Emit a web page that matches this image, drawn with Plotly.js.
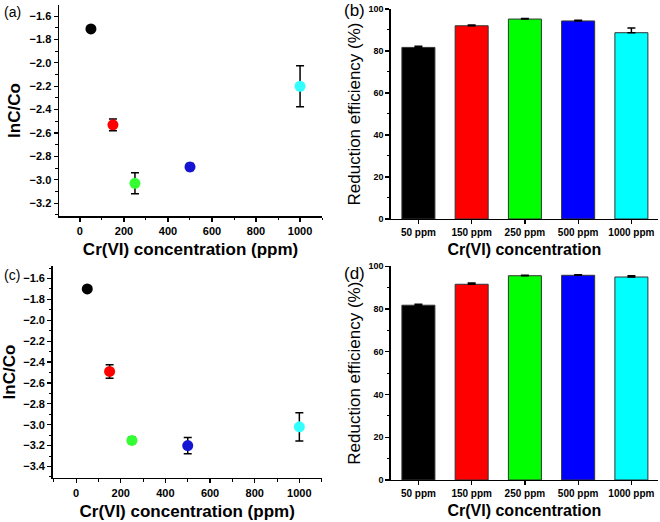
<!DOCTYPE html>
<html>
<head>
<meta charset="utf-8">
<script src="https://cdn.plot.ly/plotly-3.0.1.min.js"></script>
<style>
  html, body { margin: 0; padding: 0; background: #fff; }
  #plot { width: 660px; height: 522px; }
</style>
</head>
<body>
<div id="plot"></div>
<script>
// concentrations (ppm)
var conc = [50, 150, 250, 500, 1000];
var concLabels = ['50 ppm', '150 ppm', '250 ppm', '500 ppm', '1000 ppm'];
var colors = ['#000000', '#ff0000', '#33ff33', '#1414d2', '#33ffff'];
var barColors = ['#000000', '#ff0000', '#00ff00', '#0000ff', '#00ffff'];

// (a) lnC/Co
var lnA = [-1.71, -2.53, -3.03, -2.89, -2.20];
var lnAErr = [0.01, 0.05, 0.09, 0.03, 0.175];
// (b) reduction efficiency
var effB = [81.7, 92.0, 95.2, 94.3, 88.7];
var effBErr = [0.5, 0.4, 0.3, 0.3, 2.3];
// (c) lnC/Co
var lnC = [-1.70, -2.49, -3.15, -3.20, -3.02];
var lnCErr = [0.01, 0.065, 0.03, 0.078, 0.135];
// (d) reduction efficiency
var effD = [81.8, 91.6, 95.6, 95.8, 95.0];
var effDErr = [0.4, 0.6, 0.2, 0.3, 0.6];

var FONT = 'Liberation Sans, Arial, sans-serif';

function scatter(y, err, xa, ya) {
  return {
    x: conc, y: y, xaxis: xa, yaxis: ya, type: 'scatter', mode: 'markers',
    marker: {color: colors, size: 11},
    error_y: {type: 'data', array: err, visible: true, color: '#000', thickness: 1.5, width: 4},
    showlegend: false, hoverinfo: 'x+y'
  };
}
function bars(y, err, xa, ya) {
  return {
    x: concLabels, y: y, xaxis: xa, yaxis: ya, type: 'bar', width: 0.62,
    marker: {color: barColors, line: {color: '#333', width: 1}},
    error_y: {type: 'data', symmetric: false, array: err, arrayminus: [0, 0, 0, 0, 0],
              visible: true, color: '#000', thickness: 1.5, width: 4},
    showlegend: false
  };
}

var data = [
  scatter(lnA, lnAErr, 'x', 'y'),
  bars(effB, effBErr, 'x2', 'y2'),
  scatter(lnC, lnCErr, 'x3', 'y3'),
  bars(effD, effDErr, 'x4', 'y4')
];

var base = {
  showline: true, linecolor: '#000', linewidth: 1.5, showgrid: false, zeroline: false,
  ticks: 'outside', ticklen: 4, tickwidth: 1.2, tickcolor: '#000',
  automargin: false, fixedrange: true
};
function ax(extra) { return Object.assign({}, base, extra); }

var scatX = {
  range: [-95, 1100], dtick: 200, tick0: 0,
  tickfont: {family: FONT, size: 11, weight: 'bold', color: '#000'},
  minor: {ticks: 'outside', ticklen: 2.5, dtick: 100, tickcolor: '#000', tickwidth: 1},
  title: {text: 'Cr(VI) concentration (ppm)', standoff: 7,
          font: {family: FONT, size: 17, weight: 'bold', color: '#000'}}
};
function scatYTitle(s) {
  return {text: 'lnC/Co', standoff: s,
          font: {family: FONT, size: 17, weight: 'bold', color: '#000'}};
}
var barX = {
  type: 'category', range: [-0.52, 4.5],
  tickfont: {family: FONT, size: 10, weight: 'bold', color: '#000'},
  title: {text: 'Cr(VI) concentration', standoff: 6,
          font: {family: FONT, size: 16, weight: 'bold', color: '#000'}}
};
var barY = {
  range: [0, 100], dtick: 20,
  tickfont: {family: FONT, size: 9, weight: 'bold', color: '#000'},
  minor: {ticks: 'outside', ticklen: 2.5, dtick: 10, tickcolor: '#000', tickwidth: 1},
  title: {text: 'Reduction efficiency (%)', standoff: 3,
          font: {family: FONT, size: 17, color: '#000'}}
};

var layout = {
  width: 660, height: 522,
  margin: {l: 0, r: 0, t: 0, b: 0},
  paper_bgcolor: '#fff', plot_bgcolor: '#fff',
  font: {family: FONT, color: '#000'},
  bargap: 0.38,
  xaxis: ax(Object.assign({}, scatX, {domain: [0.0894, 0.488], anchor: 'y'})),
  yaxis: ax({domain: [0.5862, 0.9904], anchor: 'x', range: [-3.31, -1.505], dtick: 0.2, tick0: -1.6,
             tickformat: '.1f',
             tickfont: {family: FONT, size: 11, weight: 'bold', color: '#000'},
             minor: {ticks: 'outside', ticklen: 2.5, dtick: 0.1, tickcolor: '#000', tickwidth: 1},
             title: scatYTitle(4)}),
  xaxis2: ax(Object.assign({}, barX, {domain: [0.592, 0.997], anchor: 'y2'})),
  yaxis2: ax(Object.assign({}, barY, {domain: [0.5805, 0.9828], anchor: 'x2'})),
  xaxis3: ax(Object.assign({}, scatX, {domain: [0.0798, 0.4874], anchor: 'y3', range: [-105, 1100]})),
  yaxis3: ax({domain: [0.0843, 0.4904], anchor: 'x3', range: [-3.51, -1.48], dtick: 0.2, tick0: -1.6,
              tickformat: '.1f',
              tickfont: {family: FONT, size: 11, weight: 'bold', color: '#000'},
              minor: {ticks: 'outside', ticklen: 2.5, dtick: 0.1, tickcolor: '#000', tickwidth: 1},
              title: scatYTitle(6)}),
  xaxis4: ax(Object.assign({}, barX, {domain: [0.592, 0.997], anchor: 'y4'})),
  yaxis4: ax(Object.assign({}, barY, {domain: [0.0805, 0.4898], anchor: 'x4'})),
  annotations: [
    {text: '(a)', x: 2, y: 12},
    {text: '(b)', x: 342, y: 11},
    {text: '(c)', x: 2, y: 275},
    {text: '(d)', x: 342, y: 273}
  ].map(function (a, i) {
    var big = (i % 2 === 1);
    return {
      text: a.text, xref: 'paper', yref: 'paper',
      x: a.x / 660, y: 1 - a.y / 522, xanchor: 'left', yanchor: 'middle',
      showarrow: false,
      font: {family: FONT, size: big ? 17 : 14, color: '#000'}
    };
  })
};

Plotly.newPlot('plot', data, layout, {displayModeBar: false, staticPlot: true});
</script>
</body>
</html>
